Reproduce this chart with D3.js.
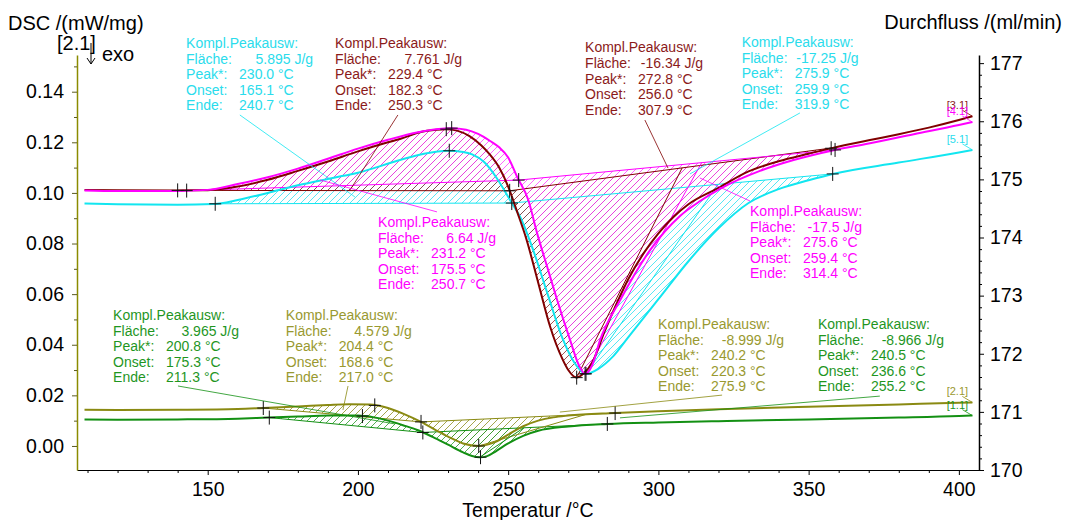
<!DOCTYPE html>
<html>
<head>
<meta charset="utf-8">
<script src="https://cdn.jsdelivr.net/npm/d3@7"></script>
<style>
  html, body { margin: 0; padding: 0; background: #fff; }
  svg { display: block; font-family: "Liberation Sans", Arial, sans-serif; }
</style>
</head>
<body>
<svg id="chart" width="1073" height="520"></svg>
<script>
// ---- data ----
// [1.1] green
const temps11 = [109, 120, 140, 160, 170, 180, 190, 200, 205, 210, 215, 220, 225, 230, 235, 238, 240.5, 243, 246, 250, 255, 260, 270, 283, 300, 320, 350, 380, 400, 404.5];
const dsc11 = [0.0105, 0.0104, 0.0105, 0.0108, 0.0112, 0.0116, 0.0120, 0.0120, 0.0114, 0.0100, 0.0082, 0.0062, 0.0035, 0.0005, -0.0025, -0.0040, -0.0045, -0.0040, -0.0020, 0.0010, 0.0040, 0.0060, 0.0077, 0.0087, 0.0093, 0.0098, 0.0105, 0.0112, 0.0118, 0.0120];
// [2.1] olive
const temps21 = [109, 120, 140, 160, 168.5, 180, 190, 197, 204, 210, 215, 221, 226, 230, 235, 240.2, 245, 250, 255, 260, 265, 270, 285.6, 300, 320, 350, 380, 400, 404.5];
const dsc21 = [0.0143, 0.0142, 0.0143, 0.0146, 0.0150, 0.0156, 0.0162, 0.0165, 0.0164, 0.0150, 0.0128, 0.0095, 0.0062, 0.0037, 0.0010, 0.0000, 0.0012, 0.0045, 0.0078, 0.0100, 0.0113, 0.0120, 0.0130, 0.0137, 0.0145, 0.0155, 0.0164, 0.0171, 0.0172];
// [3.1] maroon
const temps31 = [109, 120, 140, 150, 160, 170, 180, 190, 200, 210, 214, 220, 223, 229.4, 233, 237, 241, 244, 247, 250, 253, 256, 260, 264, 268, 270, 272.8, 275, 278, 282, 286, 290, 295, 300, 305, 310, 320, 330, 340, 350, 358, 370, 380, 390, 400, 404.5];
const dsc31 = [0.1012, 0.1011, 0.1010, 0.1011, 0.1025, 0.1052, 0.1087, 0.1124, 0.1164, 0.1200, 0.1213, 0.1238, 0.1246, 0.1252, 0.1246, 0.1225, 0.1188, 0.1150, 0.1100, 0.1025, 0.0925, 0.0820, 0.0645, 0.0470, 0.0345, 0.0300, 0.0270, 0.0285, 0.0330, 0.0450, 0.0560, 0.0660, 0.0760, 0.0840, 0.0905, 0.0955, 0.1020, 0.1085, 0.1125, 0.1155, 0.1178, 0.1208, 0.1232, 0.1258, 0.1288, 0.1303];
// [4.1] magenta
const temps41 = [109, 120, 140, 150, 160, 170, 180, 190, 200, 210, 220, 226, 231.2, 236, 240, 244, 247, 250, 253, 256.7, 259.6, 263, 266.3, 270.6, 273.5, 275.6, 278, 280.6, 287.3, 297.3, 307.2, 313.9, 320.5, 333.8, 345, 358, 370, 385, 400, 404.5];
const dsc41 = [0.1010, 0.1008, 0.1008, 0.1012, 0.1035, 0.1062, 0.1096, 0.1135, 0.1175, 0.1210, 0.1240, 0.1252, 0.1256, 0.1250, 0.1233, 0.1205, 0.1180, 0.1140, 0.1063, 0.0972, 0.0842, 0.0707, 0.0577, 0.0419, 0.0320, 0.0285, 0.0320, 0.0419, 0.0577, 0.0775, 0.0909, 0.0968, 0.1016, 0.1087, 0.1130, 0.1168, 0.1195, 0.1232, 0.1268, 0.1280];
// [5.1] cyan
const temps51 = [109, 120, 140, 152, 160, 170, 180, 192, 200, 214, 222, 230, 235, 238, 242, 246, 249, 251.2, 254, 258.3, 263, 268.3, 272, 275.9, 280, 285, 290, 300, 310, 320, 330, 340, 350, 358, 380, 400, 404.5];
const dsc51 = [0.0958, 0.0955, 0.0953, 0.0956, 0.0972, 0.1000, 0.1030, 0.1060, 0.1080, 0.1130, 0.1155, 0.1167, 0.1162, 0.1152, 0.1122, 0.1062, 0.1005, 0.0960, 0.0905, 0.0775, 0.0605, 0.0419, 0.0330, 0.0285, 0.0305, 0.0355, 0.0430, 0.0580, 0.0730, 0.0860, 0.0960, 0.1015, 0.1050, 0.1075, 0.1120, 0.1160, 0.1170];

// peak evaluation windows (temperature limits) and marker temperatures
const windows11 = [[170.5, 221.6], [221.6, 283]];
const windows21 = [[168.5, 221], [221, 285.6]];
const windows31 = [[140, 250.5], [250.5, 358]];
const windows41 = [[143, 253.5], [253.5, 358.8]];
const windows51 = [[152.5, 251.2], [251.2, 358]];
const marks11 = [170.5, 201.5, 221.6, 240.8, 283];
const marks21 = [168.5, 205.6, 221, 240.2, 285.6];
const marks31 = [140, 229.4, 250.5, 272.8, 357.5];
const marks41 = [143, 231.2, 253.5, 275.6, 358.8];
const marks51 = [152.5, 230.4, 251.2, 275.9, 358];

// peak evaluation results
const annSeries = ['5.1', '3.1', '3.1', '5.1', '4.1', '4.1', '1.1', '2.1', '2.1', '1.1'];
const areas = ['5.895', '7.761', '-16.34', '-17.25', '6.64', '-17.5', '3.965', '4.579', '-8.999', '-8.966'];
const peakTemps = ['230.0', '229.4', '272.8', '275.9', '231.2', '275.6', '200.8', '204.4', '240.2', '240.5'];
const onsetTemps = ['165.1', '182.3', '256.0', '259.9', '175.5', '259.4', '175.3', '168.6', '220.3', '236.6'];
const endTemps = ['240.7', '250.3', '307.9', '319.9', '250.7', '314.4', '211.3', '217.0', '275.9', '255.2'];

// axis ticks
const xTicks = [150, 200, 250, 300, 350, 400];
const yLeftTicks = [0, 0.02, 0.04, 0.06, 0.08, 0.10, 0.12, 0.14];
const yRightTicks = [170, 171, 172, 173, 174, 175, 176, 177];

// ---- layout ----
const svg = d3.select('#chart');
const x = d3.scaleLinear().domain([106.5, 406.7]).range([77, 979]);
const yL = d3.scaleLinear().domain([-0.0095, 0.1545]).range([470, 55]);
const yR = d3.scaleLinear().domain([170, 177.14]).range([470, 55]);

const lineColor = { '1.1': '#139013', '2.1': '#8a8a12', '3.1': '#800000', '4.1': '#ff00ff', '5.1': '#12e6f0' };
const hatchColor = { '1.1': '#2a9a2a', '2.1': '#8f8f20', '3.1': '#8b2a2a', '4.1': '#ff40ff', '5.1': '#30e0f0' };
const textColor = { '1.1': '#1f961f', '2.1': '#999930', '3.1': '#8b1a1a', '4.1': '#ff00ff', '5.1': '#2adcec' };

const series = [
  { id: '2.1', t: temps21, v: dsc21, win: windows21, marks: marks21 },
  { id: '1.1', t: temps11, v: dsc11, win: windows11, marks: marks11 },
  { id: '5.1', t: temps51, v: dsc51, win: windows51, marks: marks51 },
  { id: '3.1', t: temps31, v: dsc31, win: windows31, marks: marks31 },
  { id: '4.1', t: temps41, v: dsc41, win: windows41, marks: marks41 }
];
const byId = {};
series.forEach(s => byId[s.id] = s);

function valAt(s, t) {
  const i = d3.bisectLeft(s.t, t);
  if (i <= 0) return s.v[0];
  if (i >= s.t.length) return s.v[s.v.length - 1];
  if (s.t[i] === t) return s.v[i];
  const t0 = s.t[i - 1], t1 = s.t[i];
  return s.v[i - 1] + (s.v[i] - s.v[i - 1]) * (t - t0) / (t1 - t0);
}
function baseAt(s, w, t) {
  const a = valAt(s, w[0]), b = valAt(s, w[1]);
  return a + (b - a) * (t - w[0]) / (w[1] - w[0]);
}

// hatch patterns
const defs = svg.append('defs');
series.forEach(s => {
  defs.append('pattern')
    .attr('id', 'hatch' + s.id.replace('.', ''))
    .attr('patternUnits', 'userSpaceOnUse')
    .attr('width', 7).attr('height', 7)
    .append('path')
    .attr('d', 'M0,7 L7,0 M-1,1 L1,-1 M6,8 L8,6')
    .attr('stroke', hatchColor[s.id])
    .attr('stroke-width', 0.8)
    .attr('shape-rendering', 'crispEdges');
});

// ---- hatched peak areas ----
const area = d3.area()
  .x(d => x(d[0]))
  .y0(d => yL(d[2]))
  .y1(d => yL(d[1]))
  .curve(d3.curveMonotoneX);

series.forEach(s => {
  s.win.forEach(w => {
    const pts = [[w[0], valAt(s, w[0])]];
    s.t.forEach((t, i) => { if (t > w[0] && t < w[1]) pts.push([t, s.v[i]]); });
    pts.push([w[1], valAt(s, w[1])]);
    pts.forEach(p => p.push(baseAt(s, w, p[0])));
    svg.append('path')
      .attr('d', area(pts))
      .attr('fill', 'url(#hatch' + s.id.replace('.', '') + ')');
  });
});

// baselines
series.forEach(s => {
  s.win.forEach(w => {
    svg.append('line')
      .attr('x1', x(w[0])).attr('y1', yL(valAt(s, w[0])))
      .attr('x2', x(w[1])).attr('y2', yL(valAt(s, w[1])))
      .attr('stroke', lineColor[s.id]).attr('stroke-width', 1);
  });
});

// tangents from endo minimum to end on baseline
annSeries.forEach((id, i) => {
  if (+areas[i] >= 0) return;
  const s = byId[id];
  const w = s.win[1];
  const tp = +peakTemps[i], te = +endTemps[i];
  svg.append('line')
    .attr('x1', x(tp)).attr('y1', yL(valAt(s, tp)))
    .attr('x2', x(te)).attr('y2', yL(baseAt(s, w, te)))
    .attr('stroke', lineColor[id]).attr('stroke-width', 1);
});

// ---- curves ----
const line = d3.line()
  .x(d => x(d[0]))
  .y(d => yL(d[1]))
  .curve(d3.curveMonotoneX);

series.forEach(s => {
  svg.append('path')
    .attr('d', line(s.t.map((t, i) => [t, s.v[i]])))
    .attr('fill', 'none')
    .attr('stroke', lineColor[s.id])
    .attr('stroke-width', 2);
});

// crosses
series.forEach(s => {
  s.marks.forEach(t => {
    const cx = x(t), cy = yL(valAt(s, t));
    svg.append('path')
      .attr('d', `M${cx - 6},${cy} H${cx + 6} M${cx},${cy - 7} V${cy + 7}`)
      .attr('stroke', '#111').attr('stroke-width', 1);
  });
});

// curve end labels
series.forEach(s => {
  const tEnd = s.t[s.t.length - 1];
  const ex = x(tEnd), ey = yL(s.v[s.v.length - 1]);
  svg.append('text')
    .attr('x', ex - 15).attr('y', ey - 7)
    .attr('text-anchor', 'middle')
    .attr('font-size', 11)
    .attr('fill', textColor[s.id])
    .text('[' + s.id + ']');
  svg.append('line')
    .attr('x1', ex - 10).attr('y1', ey - 6)
    .attr('x2', ex).attr('y2', ey)
    .attr('stroke', lineColor[s.id]).attr('stroke-width', 0.8);
});

// ---- annotations ----
const annT = [142.8, 192.4, 275.6, 327.7, 206.7, 330.5, 118.5, 176.0, 299.9, 353.1];
const annV = [0.1573, 0.1573, 0.1555, 0.1577, 0.0865, 0.0909, 0.0498, 0.0498, 0.0462, 0.0462];
const areaRight = [127, 127, 118, 117, 118, 112, 126, 126, 126, 126];
const leadFrom = [[160.7, 0.1308], [213.3, 0.1308], [295.5, 0.1288], [347.1, 0.1316], [226.3, 0.0925], [330.5, 0.0968], [140.1, 0.0237], [196.7, 0.0237], [321.2, 0.0201], [373.7, 0.0197]];
const leadTo = [[199.0, 0.0984], [197.4, 0.1012], [303.2, 0.1098], [310.5, 0.1075], [187.4, 0.1051], [313.8, 0.1059], [212.3, 0.0087], [195.0, 0.0142], [267.2, 0.0134], [287.2, 0.0111]];
const lh = 15.6;

annSeries.forEach((id, i) => {
  svg.append('line')
    .attr('x1', x(leadFrom[i][0])).attr('y1', yL(leadFrom[i][1]))
    .attr('x2', x(leadTo[i][0])).attr('y2', yL(leadTo[i][1]))
    .attr('stroke', lineColor[id]).attr('stroke-width', 0.8);

  const x0 = x(annT[i]), y0 = yL(annV[i]);
  const g = svg.append('g').attr('fill', textColor[id]).attr('font-size', 14);
  g.append('text').attr('x', x0).attr('y', y0).text('Kompl.Peakausw:');
  g.append('text').attr('x', x0).attr('y', y0 + lh).text('Fläche:');
  g.append('text').attr('x', x0 + areaRight[i]).attr('y', y0 + lh)
    .attr('text-anchor', 'end').text(areas[i] + ' J/g');
  const rows = [['Peak*:', peakTemps[i]], ['Onset:', onsetTemps[i]], ['Ende:', endTemps[i]]];
  rows.forEach((r, k) => {
    g.append('text').attr('x', x0).attr('y', y0 + lh * (k + 2)).text(r[0]);
    g.append('text').attr('x', x0 + 53).attr('y', y0 + lh * (k + 2)).text(r[1] + ' °C');
  });
});

// ---- axes ----
const font = '"Liberation Sans", Arial, sans-serif';
const xMinor = d3.range(110, 406, 10).filter(t => t % 50 !== 0);
const gx = svg.append('g').attr('transform', 'translate(0,470)')
  .call(d3.axisBottom(x).tickValues(xTicks).tickSize(5).tickSizeOuter(0).tickPadding(7));
svg.append('g').attr('transform', 'translate(0,470)')
  .call(d3.axisBottom(x).tickValues(xMinor).tickSize(3).tickFormat(''))
  .call(g => g.select('.domain').remove());
gx.selectAll('text').attr('font-size', 19.5).attr('fill', '#000').attr('font-family', font);
gx.select('.domain').attr('stroke', '#000');

const yLMinor = d3.range(0.01, 0.16, 0.02);
const gyl = svg.append('g').attr('transform', 'translate(77,0)')
  .call(d3.axisLeft(yL).tickValues(yLeftTicks).tickFormat(d3.format('.2f')).tickSize(5).tickSizeOuter(0).tickPadding(8));
svg.append('g').attr('transform', 'translate(77,0)')
  .call(d3.axisLeft(yL).tickValues(yLMinor).tickSize(3).tickFormat(''))
  .call(g => g.select('.domain').remove())
  .selectAll('line').attr('stroke', '#5a5a20');
gyl.select('.domain').attr('stroke', '#8b8b00').attr('stroke-width', 1.5);
gyl.selectAll('.tick line').attr('stroke', '#5a5a20');
gyl.selectAll('text').attr('font-size', 19.5).attr('fill', '#000').attr('font-family', font);

const yRMinor = d3.range(170.2, 177.1, 0.2).filter(v => Math.abs(v - Math.round(v)) > 0.05);
const gyr = svg.append('g').attr('transform', 'translate(979,0)')
  .call(d3.axisRight(yR).tickValues(yRightTicks).tickFormat(d3.format('d')).tickSize(5).tickSizeOuter(0).tickPadding(6));
svg.append('g').attr('transform', 'translate(979,0)')
  .call(d3.axisRight(yR).tickValues(yRMinor).tickSize(3).tickFormat(''))
  .call(g => g.select('.domain').remove());
gyr.selectAll('text').attr('font-size', 19.5).attr('fill', '#000').attr('font-family', font);
gyr.select('.domain').attr('stroke-width', 1.5);

// titles
svg.append('text').attr('x', 8).attr('y', 30).attr('font-size', 20).text('DSC /(mW/mg)');
svg.append('text').attr('x', 1062).attr('y', 29).attr('font-size', 20).attr('text-anchor', 'end').text('Durchfluss /(ml/min)');
svg.append('text').attr('x', 528).attr('y', 517).attr('font-size', 19.5).attr('text-anchor', 'middle').text('Temperatur /°C');
svg.append('text').attr('x', 57).attr('y', 50).attr('font-size', 20).text('[2.1]');
svg.append('text').attr('x', 102).attr('y', 61).attr('font-size', 20).text('exo');
svg.append('path').attr('d', 'M91,43 V64 M87,58 L91,64 L95,58')
  .attr('fill', 'none').attr('stroke', '#000').attr('stroke-width', 1);
</script>
</body>
</html>
